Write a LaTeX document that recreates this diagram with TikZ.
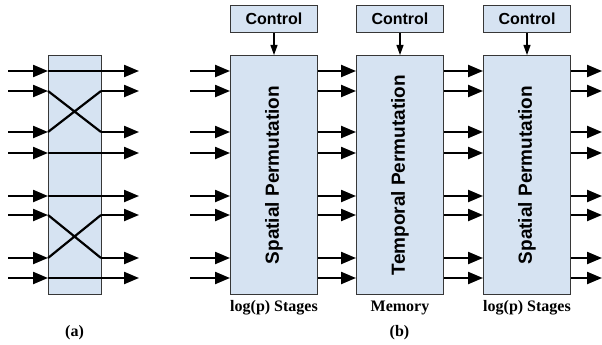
\documentclass[tikz,border=0pt]{standalone}
\usepackage{fontspec}
\setmainfont{Liberation Serif}
\setsansfont{Liberation Sans}
\usetikzlibrary{arrows.meta}
\definecolor{boxfill}{RGB}{214,227,242}
\definecolor{boxline}{RGB}{55,55,55}
\begin{document}
\begin{tikzpicture}[x=1pt,y=-1pt,
  block/.style={draw=boxline,line width=1pt,fill=boxfill,inner sep=0pt,anchor=north west},
  ctrl/.style={block,font=\sffamily\bfseries\fontsize{16}{18}\selectfont},
  wire/.style={line width=2.2pt},
  sig/.style={wire,-{Triangle[length=15pt,width=12pt]}},
  thinarrow/.style={line width=1.1pt,-{Triangle[length=10pt,width=7pt]}},
  caption/.style={font=\bfseries\fontsize{16}{18}\selectfont},
  rotlabel/.style={rotate=90,font=\sffamily\bfseries\fontsize{19}{21}\selectfont}]
\useasboundingbox (0,0) rectangle (602,345);

% ---- (a): a 2x2 crossbar stage ----
\node[block,minimum width=53pt,minimum height=239pt] (sw) at (48,55) {};
\foreach \i/\y in {1/71,2/91,3/132,4/153,5/196,6/215,7/258,8/278}{
  \coordinate (ain\i) at (8,\y);
  \coordinate (al\i) at (48,\y);
  \coordinate (ar\i) at (101,\y);
  \coordinate (aout\i) at (139,\y);
  \draw[sig] (ain\i) -- (al\i);
  \draw[sig] (ar\i) -- (aout\i);
}
\foreach \i in {1,4,5,8}{ \draw[wire] (al\i) -- (ar\i); }
\draw[wire] (al2) -- (ar3) (al3) -- (ar2);
\draw[wire] (al6) -- (ar7) (al7) -- (ar6);
\node[caption] (la) at (74.5,333) {(a)};

% ---- (b): three permutation blocks with control ----
\foreach \n/\x/\t/\c in {s1/230/Spatial Permutation/log(p) Stages,
                          tm/356/Temporal Permutation/Memory,
                          s2/483/Spatial Permutation/log(p) Stages}{
  \node[ctrl,minimum width=87pt,minimum height=27pt] (c\n) at (\x,5) {Control};
  \node[block,minimum width=87pt,minimum height=239pt] (\n) at (\x,55) {};
  \node[rotlabel] (t\n) at (\n.center) {\t};
  \node[caption] (l\n) at ([yshift=-13pt]\n.south) {\c};
  \draw[thinarrow] (c\n.south) -- (\n.north);
}
\foreach \i/\y in {1/71,2/91,3/132,4/153,5/196,6/215,7/258,8/278}{
  \coordinate (bin\i) at (190,\y);
  \coordinate (bout\i) at (602,\y);
  \draw[sig] (bin\i) -- (s1.west |- bin\i);
  \draw[sig] (s1.east |- bin\i) -- (tm.west |- bin\i);
  \draw[sig] (tm.east |- bin\i) -- (s2.west |- bin\i);
  \draw[sig] (s2.east |- bin\i) -- (bout\i);
}
\node[caption] (lb) at (399.5,333) {(b)};
\end{tikzpicture}
\end{document}
